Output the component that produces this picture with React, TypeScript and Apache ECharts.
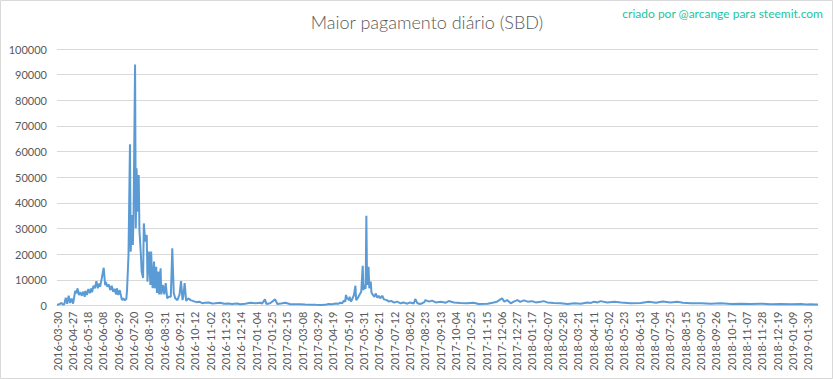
import React, { useEffect, useRef } from "react";
import * as echarts from "echarts";

// Category axis: one category per day (data starts 2016-03-30, then resumes 2016-04-07)
const FIRST_DATE = "2016-03-30";
const RESUME_DATE = "2016-04-07";
const DAY_COUNT = 1044;
const LABEL_EVERY = 21;

const dayIndex = [
  0, 2, 4, 6, 8, 10, 12, 14, 16, 18, 20, 22, 25, 27, 28, 30, 32, 34, 36, 38, 39, 41, 43, 45, 47, 48, 50, 52, 54, 56,
  58, 59, 61, 64, 66, 67, 69, 71, 73, 75, 77, 79, 81, 82, 84, 86, 89, 91, 93, 95, 96, 98, 100, 101, 103, 104, 105, 107, 108, 109,
  111, 112, 113, 115, 116, 118, 119, 121, 123, 124, 126, 128, 129, 131, 133, 134, 136, 137, 139, 140, 142, 143, 145, 147, 149, 151, 153, 156, 158, 160,
  162, 165, 168, 170, 172, 173, 175, 177, 180, 183, 186, 191, 195, 199, 203, 208, 213, 217, 224, 229, 235, 240, 247, 251, 258, 265, 272, 279, 281, 285,
  287, 292, 299, 302, 307, 313, 320, 327, 333, 340, 350, 355, 361, 368, 372, 377, 382, 386, 388, 391, 393, 395, 396, 398, 399, 400, 401, 403, 404, 407,
  409, 410, 412, 415, 417, 419, 420, 421, 423, 424, 425, 427, 428, 430, 431, 433, 435, 437, 439, 441, 443, 446, 448, 452, 455, 458, 462, 466, 471, 475,
  480, 484, 489, 491, 494, 498, 503, 505, 510, 514, 519, 526, 533, 537, 544, 553, 562, 571, 578, 590, 597, 603, 610, 613, 617, 622, 626, 631, 635, 640,
  645, 651, 656, 663, 667, 672, 681, 690, 700, 709, 718, 727, 732, 736, 741, 745, 754, 764, 773, 786, 800, 811, 821, 830, 841, 850, 858, 869, 883, 896,
  910, 924, 937, 951, 965, 979, 992, 1006, 1020, 1027, 1033, 1039, 1043,
];
const payout = [
  400, 300, 600, 1000, 400, 500, 3000, 700, 3800, 1000, 2700, 700, 5700, 4800, 6700, 4100, 5200, 3800, 5400, 3400, 5700, 4100, 6400, 4800, 6700, 5200, 7700, 6700, 9500, 6700,
  8600, 7300, 10000, 14700, 7900, 9100, 7300, 8200, 6000, 7700, 5400, 6400, 4300, 6700, 4100, 6000, 2100, 2800, 2000, 2500, 6000, 19700, 62900, 21000, 35300, 23600, 36600, 94000, 30100, 53500,
  36600, 50900, 29200, 19700, 13200, 10700, 32000, 24900, 27500, 9300, 21000, 8000, 21000, 6700, 17100, 6700, 15100, 4900, 13200, 4300, 14500, 4300, 8000, 4300, 8700, 2800, 3400, 3400, 22300, 4900,
  2800, 2100, 4300, 9500, 2100, 3400, 8700, 1800, 2800, 2100, 1800, 1300, 1500, 900, 1100, 1200, 800, 850, 1100, 700, 800, 600, 800, 500, 700, 1100, 850, 1100, 700, 2400,
  600, 900, 2400, 600, 800, 1100, 500, 450, 500, 400, 300, 250, 200, 250, 600, 500, 800, 700, 1100, 900, 1900, 1500, 4100, 2500, 2800, 2000, 3400, 1500, 2100, 4100,
  7700, 2100, 2800, 4400, 5400, 15500, 6000, 8000, 6500, 35000, 8000, 15100, 6700, 9300, 5100, 4100, 3400, 4700, 3000, 3800, 2800, 3800, 2400, 2100, 1500, 1800, 1100, 1500, 850, 1200,
  700, 1200, 800, 2500, 900, 600, 1200, 2100, 1500, 1900, 1200, 1500, 1100, 1750, 1200, 1000, 850, 1100, 600, 700, 1100, 1500, 2800, 1500, 2100, 850, 1500, 2100, 1400, 2000,
  1500, 1700, 1200, 1500, 1700, 1200, 1000, 850, 600, 850, 700, 1200, 1000, 1500, 1200, 1700, 1200, 1500, 1200, 900, 1000, 1500, 1100, 1600, 1200, 1500, 1100, 900, 850, 700,
  850, 600, 700, 550, 700, 500, 600, 450, 550, 400, 500, 350, 400,
];

const Y_MIN = 0;
const Y_MAX = 100000;
const Y_STEP = 10000;

const TITLE = "Maior pagamento diário (SBD)";
const CREDIT = "criado por @arcange para steemit.com";

function buildCategories(n: number): string[] {
  const out = [FIRST_DATE];
  const base = Date.parse(RESUME_DATE + "T00:00:00Z");
  for (let k = 1; k < n; k++) {
    const d = new Date(base + (k - 1) * 86400000);
    out.push(d.toISOString().slice(0, 10));
  }
  return out;
}

export default function App() {
  const ref = useRef<HTMLDivElement>(null);
  useEffect(() => {
    if (!ref.current) return;
    const chart = echarts.init(ref.current, undefined, { renderer: "svg" });
    const categories = buildCategories(DAY_COUNT);
    const font = "Lato, 'Open Sans', sans-serif";
    chart.setOption({
      animation: false,
      backgroundColor: "#ffffff",
      textStyle: { fontFamily: font },
      grid: { left: 57, right: 15, top: 49, bottom: 73.5, containLabel: false },
      graphic: [
        {
          type: "rect",
          shape: { x: 0.5, y: 0.5, width: 832, height: 378 },
          style: { fill: "none", stroke: "#d9d9d9", lineWidth: 1 },
          silent: true,
        },
        {
          type: "text",
          x: 427,
          y: 22,
          style: {
            text: TITLE,
            fill: "#595959",
            font: "300 18px " + font,
            textAlign: "center",
            textVerticalAlign: "middle",
          },
        },
        {
          type: "text",
          x: 823,
          y: 13,
          style: {
            text: CREDIT,
            fill: "#1cc4a2",
            font: "12px " + font,
            textAlign: "right",
            textVerticalAlign: "middle",
          },
        },
      ],
      xAxis: {
        type: "category",
        data: categories,
        boundaryGap: false,
        axisLine: { show: true, lineStyle: { color: "#d9d9d9", width: 1 } },
        axisTick: { show: false },
        axisLabel: {
          interval: LABEL_EVERY - 1,
          rotate: 90,
          color: "#595959",
          fontSize: 11,
          fontFamily: font,
          margin: 6,
        },
        splitLine: { show: false },
      },
      yAxis: {
        type: "value",
        min: Y_MIN,
        max: Y_MAX,
        interval: Y_STEP,
        axisLine: { show: false },
        axisTick: { show: false },
        axisLabel: {
          color: "#595959",
          fontSize: 11,
          fontFamily: font,
          margin: 10,
          formatter: (v: number) => String(v),
        },
        splitLine: { lineStyle: { color: "#d9d9d9", width: 1 } },
      },
      series: [
        {
          type: "line",
          data: dayIndex.map((d, i) => [d, payout[i]]),
          showSymbol: false,
          symbol: "none",
          lineStyle: { color: "#5b9bd5", width: 2 },
          itemStyle: { color: "#5b9bd5" },
        },
      ],
    });
    return () => chart.dispose();
  }, []);
  return (
    <div
      ref={ref}
      style={{ position: "absolute", left: 0, top: 0, width: 833, height: 379 }}
    />
  );
}
